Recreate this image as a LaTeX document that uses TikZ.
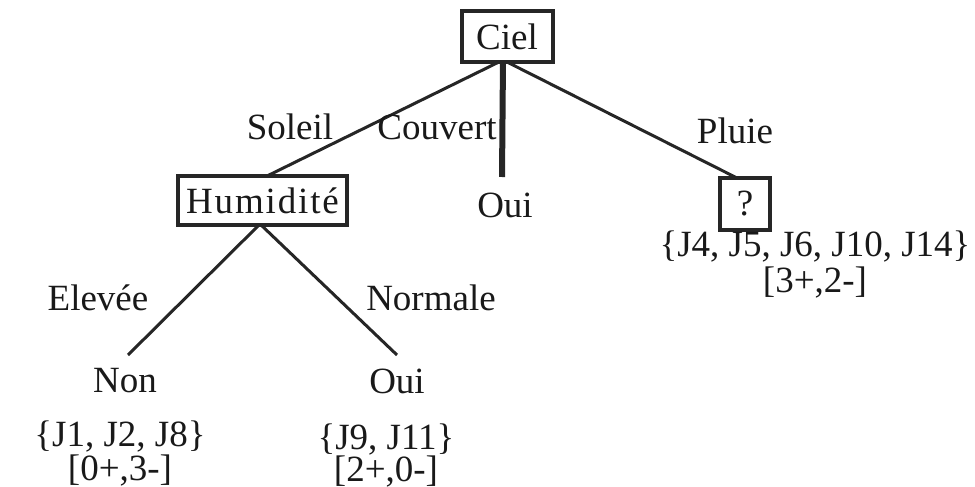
\documentclass[tikz,border=0pt]{standalone}
\usepackage{fontspec}
\setmainfont{Liberation Serif}
\begin{document}
\begin{tikzpicture}[x=1pt,y=-1pt,
  every node/.style={font=\fontsize{37}{40}\selectfont, text=black!90, inner sep=0pt},
  testbox/.style={draw=black!85, line width=4pt, fill=white},
  branch/.style={draw=black!85, line width=3pt},
  mainbranch/.style={draw=black!85, line width=6pt},
  lbl/.style={anchor=center}]
  \useasboundingbox (0,0) rectangle (975,487);

  % anchors for branch ends
  \coordinate (cb) at (503,60);
  \coordinate (hb) at (260,224);
  \coordinate (covEnd) at (502,177);
  \coordinate (hTop) at (265,177);
  \coordinate (qTop) at (737,178);
  \coordinate (nonTop) at (128,355);
  \coordinate (ouiTop) at (397,355);

  % branches (drawn first so the boxes cover their ends)
  \draw[branch] (cb) -- (hTop);
  \draw[mainbranch] (cb) -- (covEnd);
  \draw[branch] (cb) -- (qTop);
  \draw[branch] (hb) -- (nonTop);
  \draw[branch] (hb) -- (ouiTop);

  % decision nodes
  \node[testbox, minimum width=91pt, minimum height=51pt] (ciel) at (507,36.5) {Ciel};
  \node[testbox, minimum width=169pt, minimum height=49pt] (hum) at (262.5,200.5)
    {\addfontfeature{LetterSpace=5}Humidité};
  \node[testbox, minimum width=50pt, minimum height=52pt] (q) at (745,204) {?};

  % leaves
  \node (oui1) at (505,205) {Oui};
  \node (non) at (125,381) {Non};
  \node (oui2) at (397,381) {Oui};

  % branch labels
  \node[lbl] (lSoleil) at (290,127) {Soleil};
  \node[lbl] (lCouvert) at (437,127) {Couvert};
  \node[lbl] (lPluie) at (735,131) {Pluie};
  \node[lbl] (lElevee) at (98,298) {Elevée};
  \node[lbl] (lNormale) at (431,298) {Normale};

  % example sets and counts
  \node (sq) at (815,247) {\{J4, J5, J6, J10, J14\}};
  \node (cq) at (815,283) {[3+,2-]};
  \node (snon) at (120,437) {\{J1, J2, J8\}};
  \node (cnon) at (120,471) {[0+,3-]};
  \node (soui) at (386,440) {\{J9, J11\}};
  \node (coui) at (386,472) {[2+,0-]};
\end{tikzpicture}
\end{document}
